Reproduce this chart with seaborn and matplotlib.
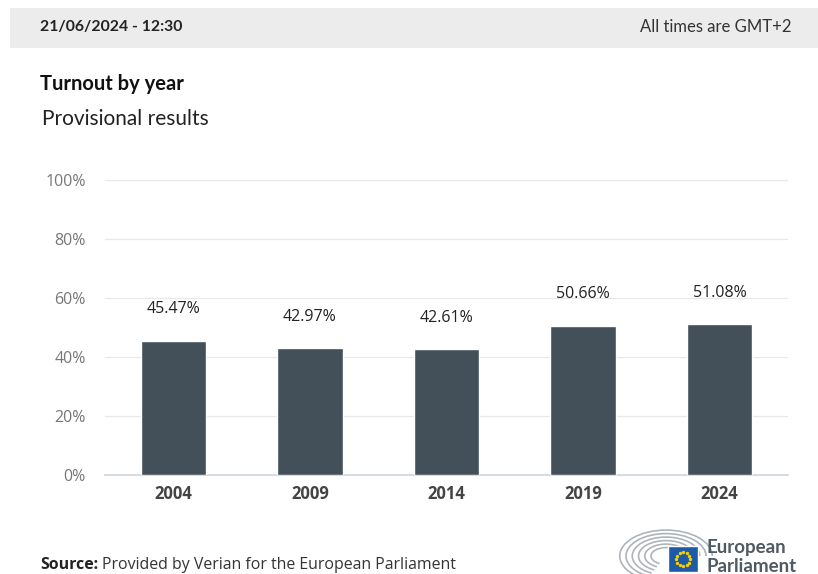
import matplotlib
matplotlib.use("Agg")
import matplotlib.pyplot as plt
import matplotlib.patches as mpatches
import numpy as np
import pandas as pd
import seaborn as sns

years = ["2004", "2009", "2014", "2019", "2024"]
turnout = [45.47, 42.97, 42.61, 50.66, 51.08]
labels = ["45.47%", "42.97%", "42.61%", "50.66%", "51.08%"]
yticks = [0, 20, 40, 60, 80, 100]
ytick_labels = ["0%", "20%", "40%", "60%", "80%", "100%"]

sns.set_theme(style="white")
plt.rcParams['font.family'] = ['Open Sans', 'DejaVu Sans']

df = pd.DataFrame({"year": years, "turnout": turnout})

fig = plt.figure(figsize=(8.18, 5.74), dpi=100)
fig.patch.set_facecolor("white")

# header band
fig.patches.append(mpatches.Rectangle((10/818, 1-48/574), 808/818, 40/574,
                                      transform=fig.transFigure, facecolor="#ececec",
                                      edgecolor="none", zorder=0))
fig.text(40/818, 1-27/574, "21/06/2024 - 12:30", fontsize=11.3, fontweight="bold",
         color="#222222", va="center", ha="left", family=["Lato", "DejaVu Sans"])
fig.text(792/818, 1-27/574, "All times are GMT+2", fontsize=12,
         color="#333333", va="center", ha="right", family=["Lato", "DejaVu Sans"])
fig.text(40/818, 1-84/574, "Turnout by year", fontsize=14.5, fontweight="bold",
         color="#111111", va="center", ha="left", family=["Lato", "DejaVu Sans"])
fig.text(42/818, 1-119/574, "Provisional results", fontsize=15,
         color="#222222", va="center", ha="left", family=["Lato", "DejaVu Sans"])

ax = fig.add_axes([105/818, 1-475/574, 683/818, 295/574])
sns.barplot(data=df, x="year", y="turnout", color="#434f59", width=0.48,
            saturation=1, ax=ax, zorder=3)
ax.set_ylim(0, 100)
ax.set_xlim(-0.5, 4.5)
ax.set_yticks(yticks)
ax.set_yticklabels(ytick_labels, color="#777777", fontsize=11.5)
ax.grid(axis="y", color="#e8e8e8", linewidth=0.9, zorder=0)
ax.set_axisbelow(True)
for s in ["top", "right", "left"]:
    ax.spines[s].set_visible(False)
ax.spines["bottom"].set_color("#cfd6e0")
ax.tick_params(axis="y", length=0, pad=14)
ax.tick_params(axis="x", length=0, pad=7)
for t in ax.get_xticklabels():
    t.set_fontweight("bold")
    t.set_color("#444444")
    t.set_fontsize(12)
ax.set_xlabel("")
ax.set_ylabel("")
ax.bar_label(ax.containers[0], labels=labels, padding=17, fontsize=11.5, color="#222222")

# source
fig.text(40/818, 1-565/574, "Source:", fontsize=11.4, fontweight="bold",
         color="#222222", va="center", ha="left")
fig.text(102/818, 1-565/574, "Provided by Verian for the European Parliament",
         fontsize=11.4, color="#333333", va="center", ha="left")

# logo
lax = fig.add_axes([618/818, 0, 100/818, 50/574])
lax.set_xlim(0, 100)
lax.set_ylim(0, 50)
lax.axis("off")
for r in [12, 17, 22, 27, 32, 37]:
    arc = mpatches.Arc((48, 18), 2*r*1.25, 2*r*0.7, theta1=0, theta2=180,
                       color="#aeb4ba", linewidth=1.2)
    lax.add_patch(arc)
    arc2 = mpatches.Arc((48, 18), 2*r*1.25, 2*r*0.7, theta1=180, theta2=230,
                        color="#aeb4ba", linewidth=1.2)
    lax.add_patch(arc2)
lax.add_patch(mpatches.Rectangle((50, 2), 30, 26, facecolor="#1f5aa6", edgecolor="white", zorder=5))
ang = np.linspace(0, 2*np.pi, 13)[:-1]
lax.scatter(65 + 7*np.cos(ang), 15 + 7*np.sin(ang), s=2, color="#f5d000", zorder=6)
fig.text(707/818, 1-548/574, "European", fontsize=13.5, color="#505a63",
         fontweight="bold", va="center", ha="left", family=["Lato", "DejaVu Sans"])
fig.text(707/818, 1-566/574, "Parliament", fontsize=13.5, color="#505a63",
         fontweight="bold", va="center", ha="left", family=["Lato", "DejaVu Sans"])

fig.savefig("out.png", dpi=100)
